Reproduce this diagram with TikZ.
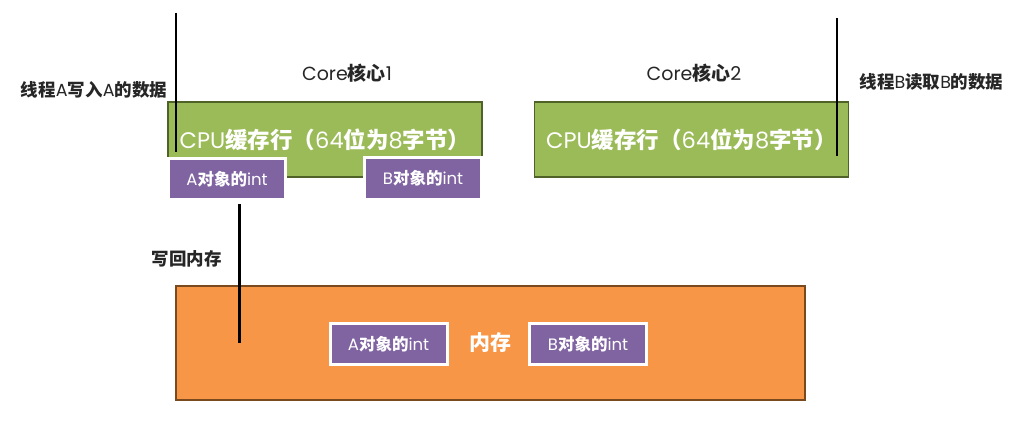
\documentclass[tikz,border=0pt]{standalone}
\usepackage{fontspec}
\setmainfont{Noto Sans CJK SC}
\newfontfamily\latf{Poppins}
\usetikzlibrary{shadows}
\definecolor{cachegreen}{HTML}{9BBB59}
\definecolor{cacheedge}{HTML}{4F6228}
\definecolor{memorange}{HTML}{F79646}
\definecolor{memedge}{HTML}{7A4A1E}
\definecolor{objpurple}{HTML}{8064A2}
\newcommand{\lat}[1]{{\mdseries\latf #1}}
\tikzset{
  cachebox/.style={draw=cacheedge, fill=cachegreen, line width=1.6pt, minimum width=314pt, minimum height=75pt, inner sep=0pt, text=white, font=\bfseries\fontsize{22.5}{26}\selectfont},
  membox/.style={draw=memedge, fill=memorange, line width=1.6pt, minimum width=629pt, minimum height=114pt, inner sep=0pt},
  objbox/.style={draw=white, fill=objpurple, line width=3pt, minimum width=117pt, minimum height=41pt, inner sep=0pt, text=white, font=\bfseries\fontsize{16.5}{19}\selectfont, drop shadow={shadow xshift=1pt, shadow yshift=-1.5pt, opacity=0.3}},
  lbl/.style={inner sep=0pt, font=\bfseries\fontsize{17.5}{20}\selectfont, text=black!85},
  corelbl/.style={inner sep=0pt, font=\bfseries\fontsize{19}{22}\selectfont, text=black!85},
  wire/.style={line width=2.6pt, black}
}
\begin{document}
\begin{tikzpicture}[x=1pt, y=-1pt]
\useasboundingbox (0,0) rectangle (1024,422);
% cache lines
\node[cachebox] (c1) at (325,139.5) {\lat{CPU}缓存行（\lat{64}位为\lat{8}字节）};
\node[cachebox] (c2) at (691.5,139.5) {\lat{CPU}缓存行（\lat{64}位为\lat{8}字节）};
\node[corelbl] (core1) at (347,73) {\lat{Core}核心\lat{1}};
\node[corelbl] (core2) at (694,73) {\lat{Core}核心\lat{2}};
% objects in cache
\node[objbox] (ca) at (227,179) {\lat{A}对象的\lat{int}};
\node[objbox] (cb) at (423,178.5) {\lat{B}对象的\lat{int}};
% memory
\node[membox] (mem) at (490.5,343) {};
\node[inner sep=0pt, text=white, font=\bfseries\fontsize{21}{24}\selectfont] (memlbl) at (490,343) {内存};
\node[objbox] (ma) at (388.5,344) {\lat{A}对象的\lat{int}};
\node[objbox] (mb) at (588,344) {\lat{B}对象的\lat{int}};
% labels
\node[lbl] (la) at (94,90) {线程\lat{A}写入\lat{A}的数据};
\node[lbl] (lb) at (931.5,82) {线程\lat{B}读取\lat{B}的数据};
\node[lbl] (lw) at (186.5,259) {写回内存};
% lines
\coordinate (atop) at (176,13);
\coordinate (abot) at (176,152);
\draw[wire] (atop) -- (abot);
\coordinate (btop) at (837,18);
\coordinate (bbot) at (837,156);
\draw[wire] (btop) -- (bbot);
\coordinate (wbbot) at (239.5,343);
\draw[wire] (ca.south -| wbbot) ++(0,3) -- (wbbot);
\end{tikzpicture}
\end{document}
